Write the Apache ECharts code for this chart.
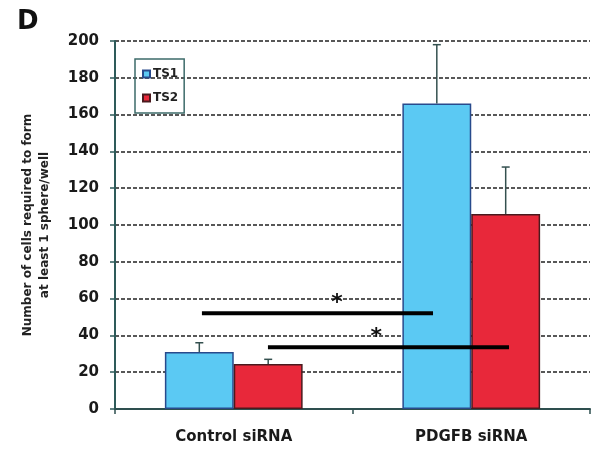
<!DOCTYPE html>
<html><head><meta charset="utf-8">
<script src="https://cdn.jsdelivr.net/npm/echarts@6/dist/echarts.min.js"></script>
<style>html,body{margin:0;padding:0;background:#fff}#c{width:599px;height:454px}</style>
</head><body><div id="c"></div>
<script>
const categories = ['Control siRNA', 'PDGFB siRNA'];
const seriesNames = ['TS1', 'TS2'];
const ts1Values = [31, 166];
const ts2Values = [24.5, 106];
const ts1Errors = [5, 32];
const ts2Errors = [2.5, 25.5];
const yTicks = [0, 20, 40, 60, 80, 100, 120, 140, 160, 180, 200];
// significance bars: [xStart, xEnd, y] in category-axis units (0 = first category centre)
const sigLines = [[-0.134, 0.839, 52], [0.144, 1.159, 33.5]];
// asterisks: [x, y]
const sigStars = [[0.435, 51.5], [0.6, 33]];

const chart = echarts.init(document.getElementById('c'));
const FONT = 'DejaVu Sans';
const BAR_W = 0.29;
function errSeries(vals, errs, side) {
  return {
    type: 'custom', xAxisIndex: 0, yAxisIndex: 0, z: 5,
    data: vals.map((v, i) => [i, v, v + errs[i]]),
    renderItem: function (params, api) {
      const band = api.size([1, 0])[0];
      const c0 = api.coord([api.value(0), api.value(1)]);
      const c1 = api.coord([api.value(0), api.value(2)]);
      const x = c0[0] + side * band * BAR_W / 2;
      const st = { stroke: '#34504f', lineWidth: 1.5 };
      return { type: 'group', children: [
        { type: 'line', shape: { x1: x, y1: c0[1], x2: x, y2: c1[1] }, style: st },
        { type: 'line', shape: { x1: x - 4, y1: c1[1], x2: x + 4, y2: c1[1] }, style: st }
      ]};
    }
  };
}
chart.setOption({
  animation: false,
  textStyle: { fontFamily: FONT },
  title: { text: 'D', left: 12, top: 4, textStyle: { fontFamily: FONT, fontSize: 26, fontWeight: 'bold', color: '#111' } },
  grid: { left: 115, right: 9, top: 41, bottom: 45 },
  legend: {
    orient: 'vertical', left: 135, top: 59, data: seriesNames,
    borderColor: '#3d6b6a', borderWidth: 1.5, padding: [9, 6, 9, 7], itemGap: 12,
    itemWidth: 7, itemHeight: 7, icon: 'rect',
    textStyle: { fontFamily: FONT, fontSize: 12, fontWeight: 'bold', color: '#222', padding: [0, 0, 0, -2] }
  },
  xAxis: [{
    type: 'category', data: categories,
    axisLine: { lineStyle: { color: '#2e4f4f', width: 2 } },
    axisTick: { show: true, length: 5, lineStyle: { color: '#2e4f4f', width: 1.5 } },
    axisLabel: { fontFamily: FONT, fontSize: 15, fontWeight: 'bold', color: '#1a1a1a', margin: 21 }
  }, {
    type: 'value', min: -0.5, max: 1.5, show: false
  }],
  yAxis: {
    type: 'value', min: 0, max: 200, interval: 20,
    name: 'Number of cells required to form\nat least 1 sphere/well',
    nameLocation: 'middle', nameGap: 62, nameRotate: 90,
    nameTextStyle: { fontFamily: FONT, fontSize: 12, fontWeight: 'bold', color: '#222', lineHeight: 17 },
    axisLine: { show: true, onZero: false, lineStyle: { color: '#2e5b5a', width: 2 } },
    axisTick: { show: true, length: 5, lineStyle: { color: '#2e5b5a', width: 1.5 } },
    axisLabel: { fontFamily: FONT, fontSize: 15, fontWeight: 'bold', color: '#1a1a1a', margin: 16,
      formatter: v => yTicks.includes(v) ? String(v) : '' },
    splitLine: { lineStyle: { color: '#222', type: [4, 2], width: 1.5 } }
  },
  series: [
    { name: seriesNames[0], type: 'bar', data: ts1Values, barWidth: (BAR_W * 100) + '%', barGap: '0%',
      itemStyle: { color: '#5bc9f3', borderColor: '#284a8c', borderWidth: 1.5 } },
    { name: seriesNames[1], type: 'bar', data: ts2Values, barWidth: (BAR_W * 100) + '%', barGap: '0%',
      itemStyle: { color: '#e8283a', borderColor: '#4a1a1e', borderWidth: 1.5 } },
    errSeries(ts1Values, ts1Errors, -1),
    errSeries(ts2Values, ts2Errors, 1),
    { type: 'custom', xAxisIndex: 1, yAxisIndex: 0, z: 6, data: sigLines,
      renderItem: function (params, api) {
        const a = api.coord([api.value(0), api.value(2)]);
        const b = api.coord([api.value(1), api.value(2)]);
        return { type: 'line', shape: { x1: a[0], y1: a[1], x2: b[0], y2: b[1] }, style: { stroke: '#000', lineWidth: 4 } };
      } },
    { type: 'custom', xAxisIndex: 1, yAxisIndex: 0, z: 6, data: sigStars,
      renderItem: function (params, api) {
        const p = api.coord([api.value(0), api.value(1)]);
        return { type: 'text', x: p[0], y: p[1], style: { text: '*', fontFamily: FONT, fontSize: 22, fontWeight: 'bold', fill: '#111', align: 'center', verticalAlign: 'bottom' } };
      } }
  ]
});
</script></body></html>
